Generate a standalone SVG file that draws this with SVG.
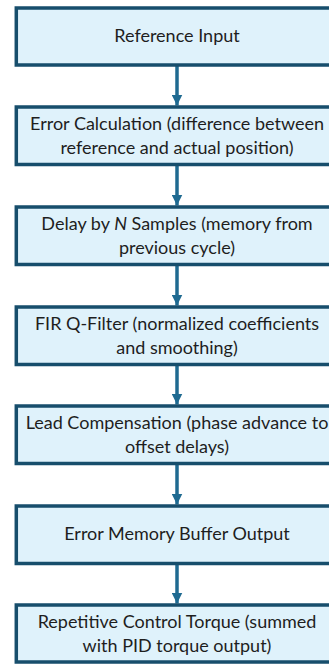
<svg xmlns="http://www.w3.org/2000/svg" width="329" height="664" viewBox="0 0 329 664">
  <style>
    .box { fill: #dff2fb; stroke: #174e6c; stroke-width: 3.5; }
    .lbl { font-family: Lato, "Open Sans", sans-serif; font-size: 18px; fill: #1e1e1e; text-anchor: middle; }
    .edge { stroke: #1f6a91; stroke-width: 3.5; fill: none; }
    .head { fill: #1f6a91; }
  </style>
  <defs>
    <marker id="arrow" markerUnits="userSpaceOnUse" markerWidth="12" markerHeight="11" refX="11" refY="5.5" orient="auto">
      <path class="head" d="M0,0 L11,5.5 L0,11 Z"/>
    </marker>
  </defs>
  <rect width="329" height="664" fill="#ffffff"/>

  <g id="connectors">
    <line class="edge" x1="177" y1="65" x2="177" y2="105.5" marker-end="url(#arrow)"/>
    <line class="edge" x1="177" y1="165" x2="177" y2="205.5" marker-end="url(#arrow)"/>
    <line class="edge" x1="177" y1="265" x2="177" y2="305.5" marker-end="url(#arrow)"/>
    <line class="edge" x1="177" y1="365" x2="177" y2="404.5" marker-end="url(#arrow)"/>
    <line class="edge" x1="177" y1="464" x2="177" y2="504.5" marker-end="url(#arrow)"/>
    <line class="edge" x1="177" y1="564" x2="177" y2="603.5" marker-end="url(#arrow)"/>
  </g>

  <g id="reference-input">
    <rect class="box" x="16.3" y="8" width="321.4" height="57"/>
    <text class="lbl" x="177" y="42">Reference Input</text>
  </g>

  <g id="error-calculation">
    <rect class="box" x="16.3" y="107" width="321.4" height="57.5"/>
    <text class="lbl" x="177" y="130">Error Calculation (difference between</text>
    <text class="lbl" x="177" y="153.5">reference and actual position)</text>
  </g>

  <g id="delay">
    <rect class="box" x="16.3" y="207" width="321.4" height="57.5"/>
    <text class="lbl" x="177" y="230">Delay by <tspan font-style="italic">N</tspan> Samples (memory from</text>
    <text class="lbl" x="177" y="253.5">previous cycle)</text>
  </g>

  <g id="fir-q-filter">
    <rect class="box" x="16.3" y="307" width="321.4" height="57.5"/>
    <text class="lbl" x="177" y="330">FIR Q-Filter (normalized coefficients</text>
    <text class="lbl" x="177" y="353.5">and smoothing)</text>
  </g>

  <g id="lead-compensation">
    <rect class="box" x="16.3" y="406" width="321.4" height="57.5"/>
    <text class="lbl" x="177" y="429">Lead Compensation (phase advance to</text>
    <text class="lbl" x="177" y="452.5">offset delays)</text>
  </g>

  <g id="memory-buffer">
    <rect class="box" x="16.3" y="506" width="321.4" height="57.5"/>
    <text class="lbl" x="177" y="540">Error Memory Buffer Output</text>
  </g>

  <g id="repetitive-torque">
    <rect class="box" x="16.3" y="605" width="321.4" height="57"/>
    <text class="lbl" x="177" y="628">Repetitive Control Torque (summed</text>
    <text class="lbl" x="177" y="651.5">with PID torque output)</text>
  </g>
</svg>
